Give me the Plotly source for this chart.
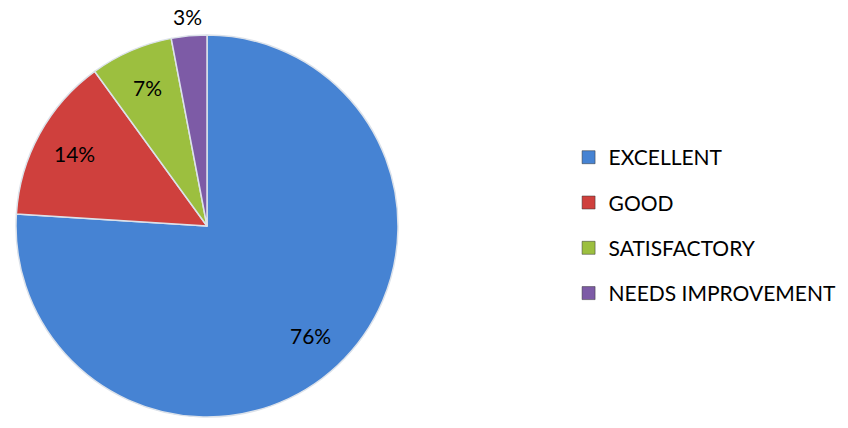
import math
import plotly.graph_objects as go

labels = ["EXCELLENT", "GOOD", "SATISFACTORY", "NEEDS IMPROVEMENT"]
values = [76, 14, 7, 3]
colors = ["#4683D3", "#CF403D", "#9CBF3F", "#7D5BA6"]
label_radius = [0.79, 0.79, 0.79, 1.1]   # fraction of pie radius for each % label

W, H = 848, 428
cx, cy, r = 207, 226, 191   # pie centre / radius in pixels

fig = go.Figure()

fig.add_trace(go.Pie(
    labels=labels,
    values=values,
    sort=False,
    direction="clockwise",
    rotation=0,
    marker=dict(colors=colors, line=dict(color="#DCE2EA", width=1.5)),
    textinfo="none",
    showlegend=False,
    domain=dict(x=[(cx - r) / W, (cx + r) / W], y=[(H - cy - r) / H, (H - cy + r) / H]),
    hoverinfo="label+percent",
))

# percentage labels placed at the middle angle of each slice
total = sum(values)
start = 0.0
for v, f in zip(values, label_radius):
    mid = (start + v / 2) / total * 2 * math.pi
    start += v
    px = cx + f * r * math.sin(mid)
    py = cy - f * r * math.cos(mid)
    fig.add_annotation(
        x=px / W, y=1 - py / H, xref="paper", yref="paper",
        xanchor="center", yanchor="middle",
        text=f"{round(v / total * 100)}%", showarrow=False,
        font=dict(family="Lato", size=21, color="black"),
    )

# legend entries (spaced like the original)
for i, (lab, col) in enumerate(zip(labels, colors)):
    fig.add_trace(go.Scatter(
        x=[None], y=[None], mode="markers", name=lab,
        marker=dict(symbol="square", size=13, color=col,
                    line=dict(color="#333333", width=0.5)),
        legendgroup=str(i), showlegend=True,
    ))

fig.update_layout(
    width=W, height=H,
    margin=dict(l=0, r=0, t=0, b=0),
    paper_bgcolor="white", plot_bgcolor="white",
    xaxis=dict(visible=False), yaxis=dict(visible=False),
    legend=dict(x=0.6705, y=0.473, xanchor="left", yanchor="middle",
                font=dict(family="Lato", size=21, color="black"),
                tracegroupgap=15, bgcolor="rgba(0,0,0,0)", itemwidth=30),
)

fig.write_html("out.html", config={"displayModeBar": False},
               post_script="document.body.style.margin='0';")
